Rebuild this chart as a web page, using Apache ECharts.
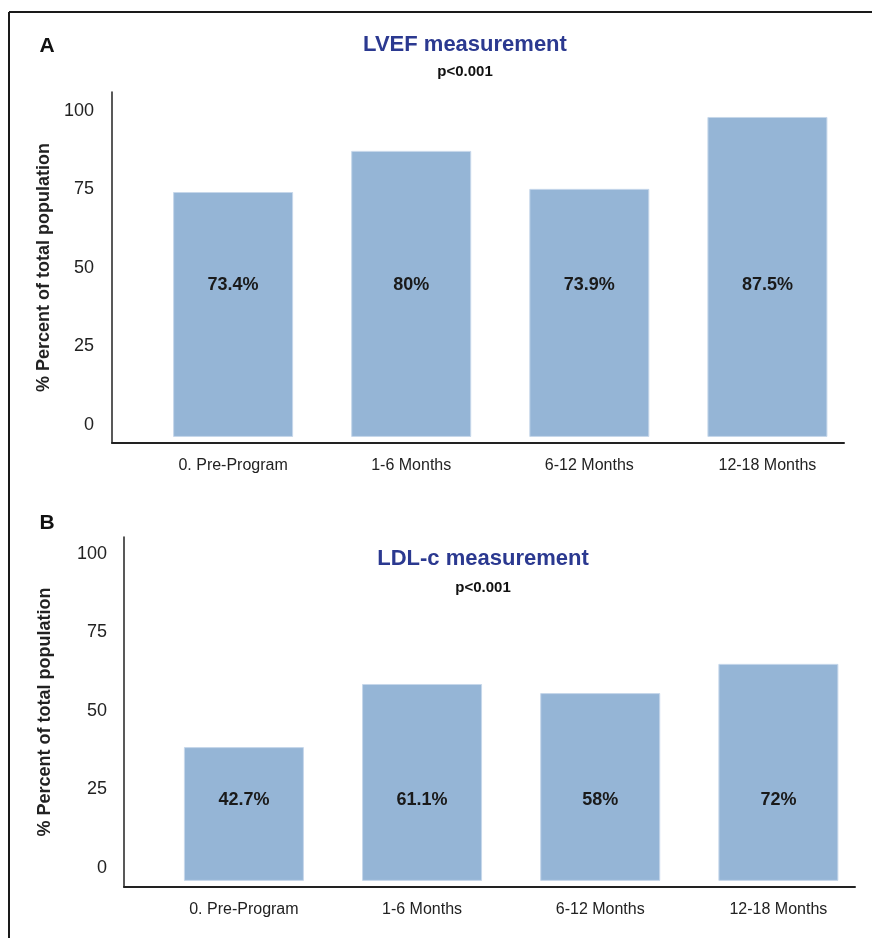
<!DOCTYPE html>
<html>
<head>
<meta charset="utf-8">
<title>LVEF and LDL-c measurement</title>
<script src="https://cdn.jsdelivr.net/npm/echarts@6/dist/echarts.min.js"></script>
<style>
  html, body { margin: 0; padding: 0; background: #fff; }
  #chart { width: 872px; height: 938px; }
</style>
</head>
<body>
<div id="chart"></div>
<script>
const categories = ['0. Pre-Program', '1-6 Months', '6-12 Months', '12-18 Months'];
const yTicks = [0, 25, 50, 75, 100];

// bar heights as drawn (the printed labels do not match the bar heights)
const lvefHeights = [74.2, 87.3, 75.2, 98.1];
const lvefLabels = ['73.4%', '80%', '73.9%', '87.5%'];

const ldlHeights = [38.5, 58.6, 55.7, 65.0];
const ldlLabels = ['42.7%', '61.1%', '58%', '72%'];

const FONT = '"Liberation Sans", Arial, sans-serif';
const BAR = '#95b5d6';

function xAxisFor(gridIndex, min, max) {
  return {
    type: 'value', gridIndex, min, max,
    axisLine: { show: true, onZero: false, lineStyle: { color: '#222', width: 2 } },
    axisTick: { show: false },
    splitLine: { show: false },
    axisLabel: {
      customValues: categories.map((c, i) => i),
      formatter: v => categories[Math.round(v)] || '',
      fontFamily: FONT, fontSize: 16, color: '#222', margin: 15
    }
  };
}

function yAxisFor(gridIndex, min, max, start, gap, margin) {
  return {
    type: 'value', gridIndex, min, max, startValue: start,
    name: '% Percent of total population',
    nameLocation: 'middle', nameRotate: 90, nameGap: gap,
    nameTextStyle: { fontFamily: FONT, fontSize: 18, fontWeight: 'bold', color: '#222' },
    axisLine: { show: true, onZero: false, lineStyle: { color: '#222', width: 1.5 } },
    axisTick: { show: false },
    splitLine: { show: false },
    axisLabel: {
      customValues: yTicks,
      fontFamily: FONT, fontSize: 18, color: '#222', margin: margin
    }
  };
}

function barSeries(idx, heights, labels, dist) {
  return {
    type: 'bar', xAxisIndex: idx, yAxisIndex: idx,
    barWidth: 120,
    data: heights.map((v, i) => [i, v]),
    itemStyle: { color: BAR, borderColor: '#c6d7ea', borderWidth: 1 },
    label: {
      show: true, position: 'insideBottom', distance: dist,
      formatter: p => labels[p.dataIndex],
      fontFamily: FONT, fontSize: 18, fontWeight: 'bold', color: '#1a1a1a'
    },
    silent: true
  };
}

function txt(x, y, text, size, color) {
  return {
    type: 'text', x, y,
    style: {
      text, fill: color || '#111', font: 'bold ' + size + 'px ' + FONT,
      align: 'center', verticalAlign: 'middle'
    }
  };
}

const chart = echarts.init(document.getElementById('chart'), null, { renderer: 'canvas' });

chart.setOption({
  backgroundColor: '#fff',
  animation: false,
  grid: [
    { left: 112, right: 28, top: 92, bottom: 938 - 443 },
    { left: 124, right: 17, top: 537, bottom: 938 - 887 }
  ],
  xAxis: [
    xAxisFor(0, -0.68, 3.43),
    xAxisFor(1, -0.673, 3.43)
  ],
  yAxis: [
    yAxisFor(0, -5.73, 106.05, -3.8, 59, 18),
    yAxisFor(1, -6.05, 105.4, -4.1, 70, 17)
  ],
  series: [
    barSeries(0, lvefHeights, lvefLabels, 143),
    barSeries(1, ldlHeights, ldlLabels, 72)
  ],
  graphic: [
    // frame lines at top and left
    { type: 'line', shape: { x1: 9, y1: 12, x2: 872, y2: 12 }, style: { stroke: '#1a1a1a', lineWidth: 2 } },
    { type: 'line', shape: { x1: 9, y1: 12, x2: 9, y2: 938 }, style: { stroke: '#1a1a1a', lineWidth: 2 } },
    txt(47, 46, 'A', 21),
    txt(465, 45, 'LVEF measurement', 22, '#2b3990'),
    txt(465, 72, 'p<0.001', 15),
    txt(47, 523, 'B', 21),
    txt(483, 559, 'LDL-c measurement', 22, '#2b3990'),
    txt(483, 588, 'p<0.001', 15)
  ]
});
</script>
</body>
</html>
